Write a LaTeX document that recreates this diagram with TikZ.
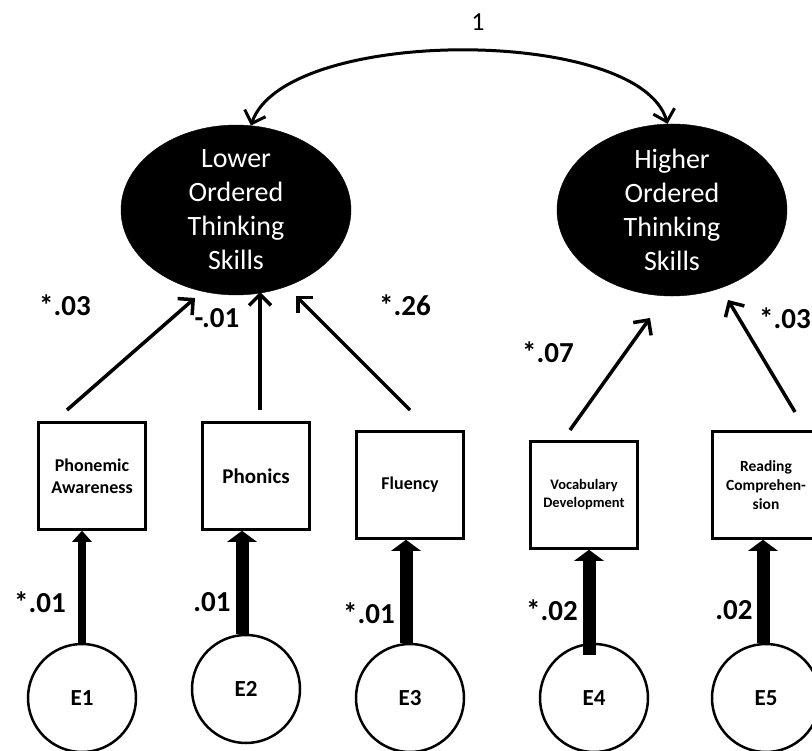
\documentclass[tikz,border=0pt]{standalone}
\usepackage{fontspec}
\setmainfont{Carlito}
\usetikzlibrary{shapes.geometric,arrows.meta,calc}
\begin{document}
\begin{tikzpicture}[x=1pt,y=-1pt,
  latent/.style={ellipse, fill=black, draw=black, minimum width=230pt, minimum height=160pt,
    text=white, align=center, font=\fontsize{28}{34}\selectfont, inner sep=0pt},
  obs/.style={draw, line width=2.5pt, minimum width=107pt, minimum height=107pt,
    align=center, inner sep=0pt},
  err/.style={circle, draw, line width=2.5pt, minimum size=108pt, inner sep=0pt,
    font=\bfseries\fontsize{23}{26}\selectfont},
  load/.style={line width=3.5pt, -{Straight Barb[length=11pt,width=22pt]}},
  errarr/.style={line width=13pt, -{Triangle[length=11pt,width=29pt]}},
  errthin/.style={line width=8pt, -{Triangle[length=11pt,width=19pt]}},
  val/.style={font=\bfseries\fontsize{29}{32}\selectfont, inner sep=0pt}
]
\useasboundingbox (0,0) rectangle (812,751);
\begin{scope}
\clip (0,0) rectangle (812,751);
% latent variables
\node[latent] (LOTS) at (236,210) {Lower\\Ordered\\Thinking\\Skills};
\node[latent] (HOTS) at (672,210) {Higher\\Ordered\\Thinking\\Skills};
% observed
\node[obs, font=\bfseries\fontsize{18}{22}\selectfont] (PA) at (92,476) {Phonemic\\Awareness};
\node[obs, font=\bfseries\fontsize{21}{24}\selectfont] (PH) at (256,476) {Phonics};
\node[obs, font=\bfseries\fontsize{18}{22}\selectfont] (FL) at (410,485) {Fluency};
\node[obs, font=\bfseries\fontsize{14.5}{18}\selectfont] (VD) at (584,495) {Vocabulary\\Development};
\node[obs, font=\bfseries\fontsize{15.5}{19}\selectfont] (RC) at (766,485) {Reading\\Comprehen-\\sion};
% errors
\node[err] (E1) at (82,698) {E1};
\node[err] (E2) at (246,689) {E2};
\node[err] (E3) at (410,698) {E3};
\node[err] (E4) at (594,698) {E4};
\node[err] (E5) at (766,698) {E5};
% covariance
\draw[line width=3pt, {Straight Barb[length=11pt,width=22pt]}-{Straight Barb[length=11pt,width=22pt]}]
  (LOTS.80) .. controls (285,26) and (640,26) .. (HOTS.93);
\node[font=\fontsize{26}{30}\selectfont, inner sep=0pt] (one) at (478,22) {1};
% loadings
\coordinate (pa1) at (67,410);  \coordinate (pa2) at (195,298);
\coordinate (ph1) at (260,410); \coordinate (ph2) at (260,292);
\coordinate (fl1) at (410,410); \coordinate (fl2) at (296,296);
\coordinate (vd1) at (570,430); \coordinate (vd2) at (650,318);
\coordinate (rc1) at (795,412); \coordinate (rc2) at (728,300);
\draw[load] (pa1) -- (pa2);
\draw[load] (ph1) -- (ph2);
\draw[load] (fl1) -- (fl2);
\draw[load] (vd1) -- (vd2);
\draw[load] (rc1) -- (rc2);
\node[val] (l1) at (65,305) {*.03};
\node[val] (l2) at (217,318) {-.01};
\node[val] (l3) at (405,305) {*.26};
\node[val] (l4) at (548,352) {*.07};
\node[val, anchor=east] (l5) at (811,318) {*.03};
% error paths
\draw[errthin] (E1.north) -- (E1.north |- PA.south);
\draw[errarr] ($(E2.north)+(-4,0)$) -- ($(E2.north |- PH.south)+(-4,0)$);
\draw[errarr] ($(E3.north)+(-4,0)$) -- ($(E3.north |- FL.south)+(-4,0)$);
\draw[errarr] ($(E4.north)+(-5,12)$) -- ($(E4.north |- VD.south)+(-5,0)$);
\draw[errarr] ($(E5.north)+(-3,0)$) -- ($(E5.north |- RC.south)+(-3,0)$);
\node[val] (m1) at (40,602) {*.01};
\node[val] (m2) at (212,602) {.01};
\node[val] (m3) at (369,613) {*.01};
\node[val] (m4) at (552,610) {*.02};
\node[val] (m5) at (734,610) {.02};
\end{scope}
\end{tikzpicture}
\end{document}
